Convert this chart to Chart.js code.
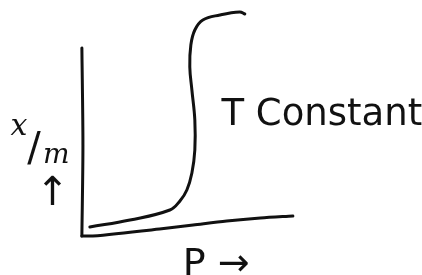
<!DOCTYPE html>
<html>
<head>
<meta charset="utf-8">
<script src="https://cdn.jsdelivr.net/npm/chart.js@4"></script>
<style>
  html, body { margin: 0; padding: 0; background: #fff; }
  #sketch { display: block; }
</style>
</head>
<body>
<canvas id="sketch" width="422" height="275"></canvas>
<script>
    // Trục tung (x/m) – nét vẽ tay
    const yAxisP = [0, 0.05, 0.0];
    const yAxisV = [9.35, 4.5, -0.05];

    // Trục hoành (P) – hơi nghiêng
    const xAxisP = [0, 0.52, 3.7, 5.3, 6.9, 8.5, 10.05];
    const xAxisV = [-0.05, -0.05, 0.3, 0.5, 0.7, 0.85, 0.95];

    // Đường đẳng nhiệt hấp phụ (T không đổi)
    const curveP = [0.38, 2.29, 4.19, 4.67, 5.0, 5.24, 5.38, 5.38, 5.24, 5.14, 5.19, 5.38, 5.76, 6.57, 7.52, 7.76];
    const curveV = [0.4, 0.75, 1.25, 1.7, 2.25, 3.1, 4.25, 5.75, 7.25, 8.4, 9.5, 10.25, 10.75, 11.0, 11.15, 11.05];

    // Nhãn
    const yLabelTop = 'x';
    const yLabelSlash = '/';
    const yLabelBottom = 'm';
    const yArrow = '↑';
    const xLabel = 'P →';
    const curveLabel = 'T Constant';

    function toPoints(ps, vs) {
        return ps.map((p, i) => ({ x: p, y: vs[i] }));
    }

    const ink = '#111';

    const lineStyle = {
        showLine: true,
        pointRadius: 0,
        borderColor: ink,
        borderWidth: 3,
        borderCapStyle: 'round',
        borderJoinStyle: 'round',
        fill: false
    };

    // Vẽ chữ viết tay
    const labelPlugin = {
        id: 'labels',
        afterDatasetsDraw(chart) {
            const c = chart.ctx;
            const sx = chart.scales.x, sy = chart.scales.y;
            c.save();
            c.fillStyle = ink;
            c.textBaseline = 'alphabetic';
            // x/m viết dạng phân số chéo
            c.font = 'italic 30px "DejaVu Serif"';
            c.fillText(yLabelTop, sx.getPixelForValue(-3.4), sy.getPixelForValue(5.0));
            c.font = '40px "DejaVu Sans"';
            c.fillText(yLabelSlash, sx.getPixelForValue(-2.6), sy.getPixelForValue(3.7));
            c.font = 'italic 28px "DejaVu Serif"';
            c.fillText(yLabelBottom, sx.getPixelForValue(-1.85), sy.getPixelForValue(3.6));
            c.font = '40px "DejaVu Sans"';
            c.fillText(yArrow, sx.getPixelForValue(-2.2), sy.getPixelForValue(1.5));
            c.font = '37px "DejaVu Sans"';
            c.fillText(curveLabel, sx.getPixelForValue(6.65), sy.getPixelForValue(5.5));
            c.font = '38px "DejaVu Sans"';
            c.fillText(xLabel, sx.getPixelForValue(4.8), sy.getPixelForValue(-2.0));
            c.restore();
        }
    };

    const ctx = document.getElementById('sketch').getContext('2d');

    const sketch = new Chart(ctx, {
        type: 'scatter',
        data: {
            datasets: [
                Object.assign({ data: toPoints(yAxisP, yAxisV), tension: 0.3 }, lineStyle),
                Object.assign({ data: toPoints(xAxisP, xAxisV), tension: 0.3 }, lineStyle),
                Object.assign({ data: toPoints(curveP, curveV), tension: 0.4 }, lineStyle)
            ]
        },
        options: {
            responsive: false,
            animation: false,
            layout: { padding: 0 },
            plugins: {
                legend: { display: false },
                tooltip: { enabled: false }
            },
            scales: {
                x: { type: 'linear', min: -3.9, max: 16.2, display: false },
                y: { type: 'linear', min: -2, max: 11.75, display: false }
            }
        },
        plugins: [labelPlugin]
    });
</script>
</body>
</html>
